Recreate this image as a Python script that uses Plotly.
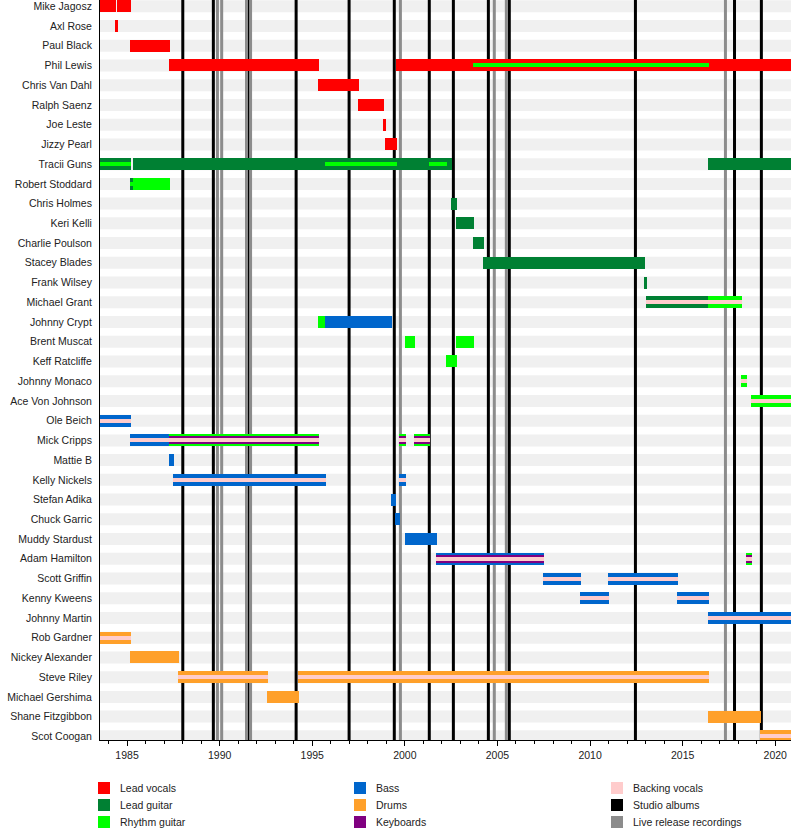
import plotly.graph_objects as go

END = 2020.9
X_MIN, X_MAX = 1983.54, 2020.85

members = ["Mike Jagosz", "Axl Rose", "Paul Black", "Phil Lewis", "Chris Van Dahl",
           "Ralph Saenz", "Joe Leste", "Jizzy Pearl", "Tracii Guns", "Robert Stoddard",
           "Chris Holmes", "Keri Kelli", "Charlie Poulson", "Stacey Blades", "Frank Wilsey",
           "Michael Grant", "Johnny Crypt", "Brent Muscat", "Keff Ratcliffe", "Johnny Monaco",
           "Ace Von Johnson", "Ole Beich", "Mick Cripps", "Mattie B", "Kelly Nickels",
           "Stefan Adika", "Chuck Garric", "Muddy Stardust", "Adam Hamilton", "Scott Griffin",
           "Kenny Kweens", "Johnny Martin", "Rob Gardner", "Nickey Alexander", "Steve Riley",
           "Michael Gershima", "Shane Fitzgibbon", "Scot Coogan"]

# (member, start, end)
lead_vocals = [
    ("Mike Jagosz", 1983.54, 1984.41), ("Mike Jagosz", 1984.46, 1985.22),
    ("Axl Rose", 1984.35, 1984.51),
    ("Paul Black", 1985.16, 1987.32),
    ("Phil Lewis", 1987.27, 1995.37), ("Phil Lewis", 1999.52, END),
    ("Chris Van Dahl", 1995.31, 1997.53),
    ("Ralph Saenz", 1997.47, 1998.88),
    ("Joe Leste", 1998.82, 1998.98),
    ("Jizzy Pearl", 1998.93, 1999.58),
]
lead_guitar = [
    ("Tracii Guns", 1983.54, 1985.22), ("Tracii Guns", 1985.32, 2002.53), ("Tracii Guns", 2016.37, END),
    ("Robert Stoddard", 1985.16, 1985.32),
    ("Chris Holmes", 2002.49, 2002.82),
    ("Keri Kelli", 2002.76, 2003.74),
    ("Charlie Poulson", 2003.68, 2004.28),
    ("Stacey Blades", 2004.22, 2012.97),
    ("Frank Wilsey", 2012.92, 2013.08),
    ("Michael Grant", 2013.02, 2016.37),
]
rhythm_guitar = [
    ("Robert Stoddard", 1985.32, 1987.32),
    ("Michael Grant", 2016.37, 2018.20),
    ("Johnny Crypt", 1995.31, 1995.69),
    ("Brent Muscat", 2000.01, 2000.55), ("Brent Muscat", 2002.76, 2003.74),
    ("Keff Ratcliffe", 2002.22, 2002.82),
    ("Johnny Monaco", 2018.15, 2018.48),
    ("Ace Von Johnson", 2018.69, END),
    ("Mick Cripps", 1987.28, 1995.37), ("Mick Cripps", 1999.69, 2000.06), ("Mick Cripps", 2000.50, 2001.36),
    ("Adam Hamilton", 2018.42, 2018.75),
]
rhythm_guitar_inner = [
    ("Phil Lewis", 2003.68, 2016.43),
    ("Tracii Guns", 1983.54, 1985.22), ("Tracii Guns", 1995.69, 1999.56), ("Tracii Guns", 2001.31, 2002.28),
    ("Robert Stoddard", 1985.16, 1985.32),
]
bass = [
    ("Ole Beich", 1983.54, 1985.22),
    ("Mick Cripps", 1985.16, 1987.28),
    ("Johnny Crypt", 1995.69, 1999.31),
    ("Mattie B", 1987.27, 1987.54),
    ("Kelly Nickels", 1987.48, 1995.75), ("Kelly Nickels", 1999.69, 2000.06),
    ("Stefan Adika", 1999.25, 1999.52),
    ("Chuck Garric", 1999.47, 1999.74),
    ("Muddy Stardust", 2000.01, 2001.74),
    ("Adam Hamilton", 2001.68, 2007.52),
    ("Scott Griffin", 2007.46, 2009.51), ("Scott Griffin", 2010.97, 2014.75),
    ("Kenny Kweens", 2009.46, 2011.03), ("Kenny Kweens", 2014.70, 2016.43),
    ("Johnny Martin", 2016.37, END),
]
drums = [
    ("Rob Gardner", 1983.54, 1985.22),
    ("Nickey Alexander", 1985.16, 1987.81),
    ("Steve Riley", 1987.75, 1992.61), ("Steve Riley", 1994.23, 2016.43),
    ("Michael Gershima", 1992.56, 1994.29),
    ("Shane Fitzgibbon", 2016.37, 2019.23),
    ("Scot Coogan", 2019.18, END),
]
keyboards = [
    ("Mick Cripps", 1987.28, 1995.37), ("Mick Cripps", 1999.69, 2000.06), ("Mick Cripps", 2000.50, 2001.36),
    ("Adam Hamilton", 2001.68, 2007.52), ("Adam Hamilton", 2018.42, 2018.75),
]
backing_vocals = [
    ("Michael Grant", 2013.02, 2018.20),
    ("Johnny Monaco", 2018.15, 2018.48),
    ("Ace Von Johnson", 2018.69, END),
    ("Ole Beich", 1983.54, 1985.22),
    ("Mick Cripps", 1985.16, 1995.37), ("Mick Cripps", 1999.69, 2000.06), ("Mick Cripps", 2000.50, 2001.36),
    ("Kelly Nickels", 1987.48, 1995.75), ("Kelly Nickels", 1999.69, 2000.06),
    ("Adam Hamilton", 2001.68, 2007.52), ("Adam Hamilton", 2018.42, 2018.75),
    ("Scott Griffin", 2007.46, 2009.51), ("Scott Griffin", 2010.97, 2014.75),
    ("Kenny Kweens", 2009.46, 2011.03), ("Kenny Kweens", 2014.70, 2016.43),
    ("Johnny Martin", 2016.37, END),
    ("Rob Gardner", 1983.54, 1985.22),
    ("Steve Riley", 1987.75, 1992.61), ("Steve Riley", 1994.23, 2016.43),
    ("Scot Coogan", 2019.18, END),
]
studio_albums = [1988.01, 1989.66, 1991.56, 1994.13, 1996.99, 1999.43, 2001.32,
                 2002.62, 2004.51, 2005.64, 2012.45, 2017.80, 2019.25]
live_recordings = [1989.88, 1990.11, 1991.45, 1991.67, 1999.76, 2004.83, 2005.48, 2017.31]

colors = {
    "Lead vocals": "#FF0000", "Lead guitar": "#008033", "Rhythm guitar": "#00FF00",
    "Bass": "#0066CC", "Drums": "#FFA02A", "Keyboards": "#800080",
    "Backing vocals": "#FFCCCC", "Studio albums": "#000000", "Live release recordings": "#8C8C8C",
}

FONT_SIZE = 10.5
ROW_PX = 740 / 37.504
FULL_W = 12 / ROW_PX
MID_W = 8 / ROW_PX
INNER_W = 4 / ROW_PX
Y_TOP = -6.3 / ROW_PX
Y_BOTTOM = Y_TOP + 37.504

idx = {m: i for i, m in enumerate(members)}

fig = go.Figure()

def add_layer(segs, color, width):
    fig.add_trace(go.Bar(
        orientation="h",
        y=[idx[m] for m, s, e in segs],
        base=[s for m, s, e in segs],
        x=[e - s for m, s, e in segs],
        width=width,
        marker=dict(color=color, line=dict(width=0)),
        showlegend=False, hoverinfo="skip",
    ))

add_layer(lead_vocals, colors["Lead vocals"], FULL_W)
add_layer(lead_guitar, colors["Lead guitar"], FULL_W)
add_layer(rhythm_guitar, colors["Rhythm guitar"], FULL_W)
add_layer(bass, colors["Bass"], FULL_W)
add_layer(drums, colors["Drums"], FULL_W)
add_layer(keyboards, colors["Keyboards"], MID_W)
add_layer(rhythm_guitar_inner, colors["Rhythm guitar"], INNER_W)
add_layer(backing_vocals, colors["Backing vocals"], INNER_W)

shapes = []
for i in range(len(members)):
    shapes.append(dict(type="rect", xref="paper", yref="y", x0=0, x1=1,
                       y0=i - FULL_W / 2, y1=i + FULL_W / 2,
                       fillcolor="#F0F0F0", line=dict(width=0), layer="below"))
for x in studio_albums:
    shapes.append(dict(type="line", xref="x", yref="paper", x0=x, x1=x, y0=0, y1=1,
                       line=dict(color=colors["Studio albums"], width=3), layer="below"))
for x in live_recordings:
    shapes.append(dict(type="line", xref="x", yref="paper", x0=x, x1=x, y0=0, y1=1,
                       line=dict(color=colors["Live release recordings"], width=3), layer="below"))

# legend (manual, pixel-placed)
PL, PW, PT, PH = 100, 691, 0, 740
def px2paper(px, py):
    return (px - PL) / PW, (PT + PH - py) / PH

legend_cols = [
    (98, ["Lead vocals", "Lead guitar", "Rhythm guitar"]),
    (354, ["Bass", "Drums", "Keyboards"]),
    (611, ["Backing vocals", "Studio albums", "Live release recordings"]),
]
legend_rows_y = [788, 805, 822]
annotations = []
for xpx, names in legend_cols:
    for name, ypx in zip(names, legend_rows_y):
        x0, y0 = px2paper(xpx, ypx - 6)
        x1, y1 = px2paper(xpx + 12, ypx + 6)
        shapes.append(dict(type="rect", xref="paper", yref="paper", x0=x0, x1=x1, y0=y0, y1=y1,
                           fillcolor=colors[name], line=dict(width=0)))
        tx, ty = px2paper(xpx + 20, ypx)
        annotations.append(dict(xref="paper", yref="paper", x=tx, y=ty, text=name,
                                showarrow=False, xanchor="left", yanchor="middle",
                                font=dict(size=FONT_SIZE, color="#222222")))

fig.update_layout(
    width=800, height=840,
    margin=dict(l=100, r=9, t=0, b=100),
    paper_bgcolor="white", plot_bgcolor="white",
    barmode="overlay", bargap=0,
    font=dict(family="Liberation Sans, Arial, sans-serif", size=FONT_SIZE, color="#222222"),
    shapes=shapes, annotations=annotations,
    showlegend=False,
    xaxis=dict(range=[X_MIN, X_MAX], tick0=1985, dtick=5, ticks="outside", ticklen=5,
               tickcolor="black", showline=True, linecolor="black", linewidth=1,
               showgrid=False, zeroline=False,
               minor=dict(dtick=1, ticks="outside", ticklen=3, tickcolor="black", showgrid=False),
               tickfont=dict(size=FONT_SIZE, color="#222222")),
    yaxis=dict(range=[Y_BOTTOM, Y_TOP], tickvals=list(range(len(members))), ticktext=members,
               ticks="", showline=True, linecolor="black", linewidth=1, showgrid=False,
               zeroline=False, ticklabelstandoff=5, ticklabeloverflow="allow",
               tickfont=dict(size=FONT_SIZE, color="#222222")),
)

fig.write_html("out.html")
